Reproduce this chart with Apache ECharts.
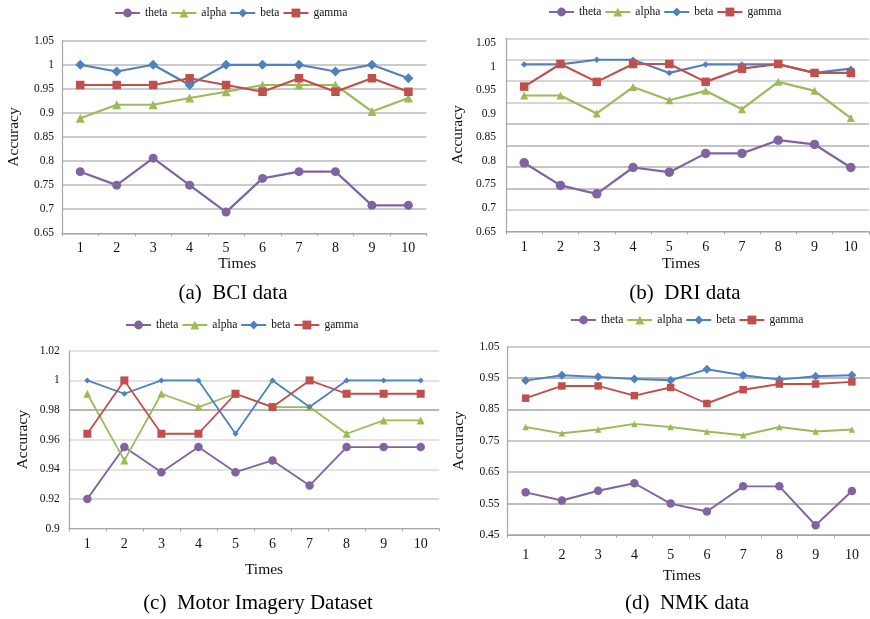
<!DOCTYPE html>
<html>
<head>
<meta charset="utf-8">
<title>Accuracy per run for four EEG datasets</title>
<script src="https://cdn.jsdelivr.net/npm/echarts@6/dist/echarts.min.js"></script>
<style>
  html, body { margin: 0; padding: 0; background: #fff; }
  #chart { width: 870px; height: 619px; }
</style>
</head>
<body>
<div id="chart"></div>
<script>
// ---- data ----
const times = ['1', '2', '3', '4', '5', '6', '7', '8', '9', '10'];
const bandNames = ['theta', 'alpha', 'beta', 'gamma'];

// (a) BCI data
const bciTheta = [0.778, 0.750, 0.806, 0.750, 0.694, 0.764, 0.778, 0.778, 0.708, 0.708];
const bciAlpha = [0.889, 0.917, 0.917, 0.931, 0.944, 0.958, 0.958, 0.958, 0.903, 0.931];
const bciBeta  = [1.000, 0.986, 1.000, 0.958, 1.000, 1.000, 1.000, 0.986, 1.000, 0.972];
const bciGamma = [0.958, 0.958, 0.958, 0.972, 0.958, 0.944, 0.972, 0.944, 0.972, 0.944];

// (b) DRI data
const driTheta = [0.796, 0.748, 0.730, 0.786, 0.776, 0.816, 0.816, 0.844, 0.835, 0.786];
const driAlpha = [0.939, 0.939, 0.901, 0.957, 0.929, 0.949, 0.910, 0.968, 0.949, 0.891];
const driBeta  = [1.005, 1.005, 1.015, 1.015, 0.987, 1.005, 1.005, 1.005, 0.987, 0.996];
const driGamma = [0.958, 1.006, 0.968, 1.006, 1.006, 0.968, 0.996, 1.006, 0.987, 0.987];

// (c) Motor Imagery Dataset
const miTheta = [0.920, 0.955, 0.938, 0.955, 0.938, 0.946, 0.929, 0.955, 0.955, 0.955];
const miAlpha = [0.991, 0.946, 0.991, 0.982, 0.991, 0.982, 0.982, 0.964, 0.973, 0.973];
const miBeta  = [1.000, 0.991, 1.000, 1.000, 0.964, 1.000, 0.982, 1.000, 1.000, 1.000];
const miGamma = [0.964, 1.000, 0.964, 0.964, 0.991, 0.982, 1.000, 0.991, 0.991, 0.991];

// (d) NMK data
const nmkTheta = [0.586, 0.560, 0.591, 0.615, 0.550, 0.525, 0.605, 0.605, 0.481, 0.590];
const nmkAlpha = [0.794, 0.774, 0.786, 0.804, 0.794, 0.780, 0.768, 0.794, 0.780, 0.786];
const nmkBeta  = [0.942, 0.959, 0.954, 0.947, 0.943, 0.978, 0.959, 0.945, 0.956, 0.959];
const nmkGamma = [0.886, 0.925, 0.925, 0.894, 0.920, 0.869, 0.913, 0.931, 0.931, 0.938];

// tick labels of the value axes
const bciTicks = ['0.65', '0.7', '0.75', '0.8', '0.85', '0.9', '0.95', '1', '1.05'];
const driTicks = ['0.65', '0.7', '0.75', '0.8', '0.85', '0.9', '0.95', '1', '1.05'];
const miTicks  = ['0.9', '0.92', '0.94', '0.96', '0.98', '1', '1.02'];
const nmkTicks = ['0.45', '0.55', '0.65', '0.75', '0.85', '0.95', '1.05'];

const captions = ['(a)  BCI data', '(b)  DRI data', '(c)  Motor Imagery Dataset', '(d)  NMK data'];

// ---- styling ----
const SERIF = '"Liberation Serif", "Times New Roman", serif';
const COLORS = { theta: '#8064A2', alpha: '#9BBB59', beta: '#4F81BD', gamma: '#C0504D' };
const SYMBOLS = { theta: 'circle', alpha: 'triangle', beta: 'diamond', gamma: 'rect' };
const AXIS_GRAY = '#a6a6a6';

// per-panel geometry
const panels = [
  { grid: { left: 62, top: 40.7, width: 364.6, height: 192.6 },
    legend: { left: 109, top: 2 },
    data: [bciTheta, bciAlpha, bciBeta, bciGamma],
    ticks: bciTicks, min: 0.65, max: 1.05, interval: 0.05,
    sizes: [9, 9, 10, 8.5], lineW: 2.2,
    split: ['#bababa'],
    yMargin: 8, xMargin: 8, xNameGap: 23, xNamePad: [0, 14, 0, 0], yNameGap: 40,
    caption: { x: 233, y: 293 } },
  { grid: { left: 506, top: 38.3, width: 363, height: 193.2 },
    legend: { left: 543, top: 1 },
    data: [driTheta, driAlpha, driBeta, driGamma],
    ticks: driTicks, min: 0.65, max: 1.0606, interval: 0.05,
    sizes: [9.5, 8, 6.5, 8.5], lineW: 2.2,
    split: ['#bdbdbd', '#c8c8c8', '#b0b0b0', '#b0b0b0', '#b0b0b0', '#b0b0b0', '#c8c8c8', '#c8c8c8', '#c8c8c8', '#c8c8c8'],
    extraGrid: true,
    yMargin: 10, xMargin: 9, xNameGap: 24, xNamePad: [0, 13, 0, 0], yNameGap: 40,
    caption: { x: 685, y: 293 } },
  { grid: { left: 68.8, top: 350.8, width: 370.4, height: 177.7 },
    legend: { left: 120, top: 314 },
    data: [miTheta, miAlpha, miBeta, miGamma],
    ticks: miTicks, min: 0.9, max: 1.02, interval: 0.02,
    sizes: [8.5, 8, 6, 8], lineW: 1.8,
    split: ['#dadada', '#c8c8c8', '#dadada', '#dadada', '#a0a0a0', '#dadada', '#dadada'],
    yMargin: 9, xMargin: 9, xNameGap: 33, xNamePad: [0, 0, 0, 20], yNameGap: 38,
    caption: { x: 258, y: 603 } },
  { grid: { left: 507.5, top: 346.7, width: 363, height: 188.3 },
    legend: { left: 565, top: 309 },
    data: [nmkTheta, nmkAlpha, nmkBeta, nmkGamma],
    ticks: nmkTicks, min: 0.45, max: 1.05, interval: 0.1,
    sizes: [8.5, 6.5, 9, 7.5], lineW: 1.9,
    split: ['#a6a6a6', '#a6a6a6', '#b8b8b8', '#b8b8b8', '#a6a6a6', '#a6a6a6', '#bdbdbd'],
    yMargin: 8, xMargin: 13, xNameGap: 33, xNamePad: [0, 14, 0, 0], yNameGap: 41,
    caption: { x: 687, y: 603 } }
];

const grids = [], xAxes = [], yAxes = [], legends = [], series = [], graphics = [];

panels.forEach((p, i) => {
  grids.push(Object.assign({ containLabel: false }, p.grid));

  xAxes.push({
    type: 'category', gridIndex: i, data: times, boundaryGap: true,
    name: 'Times', nameLocation: 'middle', nameGap: p.xNameGap,
    nameTextStyle: { fontFamily: SERIF, fontSize: 15.5, color: '#111', padding: p.xNamePad },
    axisLine: { lineStyle: { color: AXIS_GRAY, width: 1.2 } },
    axisTick: { show: true, length: 3, lineStyle: { color: AXIS_GRAY } },
    axisLabel: { fontFamily: SERIF, fontSize: 14, color: '#111', margin: p.xMargin },
    splitLine: { show: false }
  });

  const tickSet = p.ticks;
  const yIndex = yAxes.length;
  yAxes.push({
    type: 'value', gridIndex: i, min: p.min, max: p.max, interval: p.interval,
    name: 'Accuracy', nameLocation: 'middle', nameGap: p.yNameGap, nameRotate: 90,
    nameTextStyle: { fontFamily: SERIF, fontSize: 15.5, color: '#111' },
    axisLine: { show: true, lineStyle: { color: AXIS_GRAY, width: 1.2 } },
    axisTick: { show: false },
    axisLabel: {
      fontFamily: SERIF, fontSize: 11.5, color: '#111', margin: p.yMargin,
      showMaxLabel: !p.extraGrid,
      formatter: v => {
        const s = String(+v.toFixed(4));
        return tickSet.indexOf(s) >= 0 ? s : '';
      }
    },
    splitLine: p.extraGrid ? { show: false }
      : { show: true, lineStyle: { color: p.split, width: 1.5 } }
  });

  if (p.extraGrid) {
    // evenly spaced guide lines over the plot area of panel (b)
    yAxes.push({
      type: 'value', gridIndex: i, min: 0, max: 9, interval: 1, position: 'right',
      axisLine: { show: false }, axisTick: { show: false }, axisLabel: { show: false },
      splitLine: { show: true, lineStyle: { color: p.split, width: 1.5 } }
    });
  }

  legends.push({
    data: bandNames, left: p.legend.left, top: p.legend.top,
    orient: 'horizontal', itemWidth: 25, itemHeight: 11, itemGap: 3,
    textStyle: { fontFamily: SERIF, fontSize: 11.5, color: '#111' },
    selectedMode: false
  });

  bandNames.forEach((name, k) => {
    series.push({
      type: 'line', name, xAxisIndex: i, yAxisIndex: yIndex,
      data: p.data[k],
      symbol: SYMBOLS[name], symbolSize: p.sizes[k],
      itemStyle: { color: COLORS[name] },
      lineStyle: { color: COLORS[name], width: p.lineW },
      z: 2 + k, animation: false
    });
  });

  graphics.push({
    type: 'text', x: p.caption.x, y: p.caption.y,
    style: {
      text: captions[i], fontFamily: SERIF, fontSize: 21, fill: '#000',
      textAlign: 'center', textVerticalAlign: 'middle'
    }
  });
});

const chart = echarts.init(document.getElementById('chart'), null, { renderer: 'canvas' });
chart.setOption({
  backgroundColor: '#ffffff',
  animation: false,
  grid: grids, xAxis: xAxes, yAxis: yAxes, legend: legends,
  series, graphic: graphics
});
</script>
</body>
</html>
